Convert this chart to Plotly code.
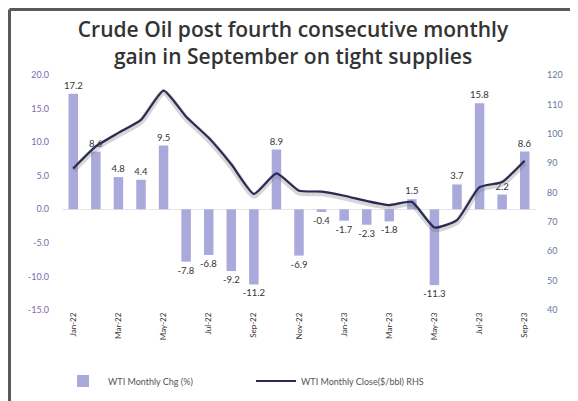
import plotly.graph_objects as go

months = ["Jan-22","Feb-22","Mar-22","Apr-22","May-22","Jun-22","Jul-22","Aug-22","Sep-22",
          "Oct-22","Nov-22","Dec-22","Jan-23","Feb-23","Mar-23","Apr-23","May-23","Jun-23",
          "Jul-23","Aug-23","Sep-23"]
monthly_chg = [17.2, 8.6, 4.8, 4.4, 9.5, -7.8, -6.8, -9.2, -11.2, 8.9, -6.9, -0.4,
               -1.7, -2.3, -1.8, 1.5, -11.3, 3.7, 15.8, 2.2, 8.6]
monthly_close = [88.2, 95.7, 100.3, 104.7, 114.7, 105.8, 98.6, 89.6, 79.5, 86.5, 80.6, 80.3,
                 78.9, 77.1, 75.7, 76.8, 68.1, 70.6, 81.8, 83.6, 90.8]
left_ticks = [20, 15, 10, 5, 0, -5, -10, -15]
right_ticks = [120, 110, 100, 90, 80, 70, 60, 50, 40]

FONT = "Lato"
BAR = "#aaa9dc"
LINE = "#2b2a55"

# page body has an 8px margin
W, H = 570, 393
ML, MR, MT, MB = 54, 42, 67, 91
PW, PH = W - ML - MR, H - MT - MB

fig = go.Figure()
fig.add_trace(go.Bar(
    x=months, y=monthly_chg, name="WTI Monthly Chg (%)",
    marker=dict(color=BAR, line=dict(width=0)), width=0.42,
    text=[f"{v:.1f}" for v in monthly_chg], textposition="outside", constraintext="none",
    textfont=dict(size=9.5, color="#333333", family=FONT), cliponaxis=False,
    legend="legend",
))
# shadow
fig.add_trace(go.Scatter(
    x=months, y=[v - 0.6 for v in monthly_close], mode="lines", yaxis="y2",
    line=dict(color="rgba(120,120,120,0.3)", width=6, shape="spline", smoothing=0.5),
    showlegend=False, hoverinfo="skip",
))
fig.add_trace(go.Scatter(
    x=months, y=monthly_close, mode="lines", yaxis="y2",
    name="WTI Monthly Close($/bbl) RHS",
    line=dict(color=LINE, width=2.2, shape="spline", smoothing=0.5),
    legend="legend2",
))

fx = (1.5 - ML) / PW
fy = 1 + (MT - 1.5) / PH
fig.update_layout(
    width=W, height=H,
    margin=dict(l=ML, r=MR, t=MT, b=MB, autoexpand=False),
    paper_bgcolor="white", plot_bgcolor="white",
    title=dict(text="Crude Oil post fourth consecutive monthly<br>gain in September on tight supplies",
               x=0.5, xanchor="center", y=1 - 29 / H, yanchor="top", yref="container",
               font=dict(family="Open Sans", size=21, color="#333333", weight=600)),
    font=dict(family=FONT),
    xaxis=dict(type="category", tickmode="array", tickvals=months[::2], ticktext=months[::2],
               tickangle=-90, tickfont=dict(size=8, color="#333333"),
               showgrid=False, showline=False, ticks="", zeroline=False),
    yaxis=dict(range=[-15, 20], tickvals=left_ticks, ticktext=[f"{v:.1f}" for v in left_ticks],
               tickfont=dict(size=9, color="#7a68b0"), showgrid=False, zeroline=True,
               zerolinecolor="#e6e6e6", zerolinewidth=1, showline=False, ticks="",
               ticklabelstandoff=12),
    yaxis2=dict(range=[40, 120], tickvals=right_ticks, overlaying="y", side="right",
                tickfont=dict(size=9, color="#6a78a0"), showgrid=False, zeroline=False,
                showline=False, ticks="", ticklabelstandoff=10),
    legend=dict(orientation="h", x=50 / W, xanchor="left", xref="container",
                y=20 / H, yanchor="middle", yref="container",
                font=dict(size=9, color="#555555"), itemwidth=40),
    legend2=dict(orientation="h", x=243 / W, xanchor="left", xref="container",
                 y=20 / H, yanchor="middle", yref="container",
                 font=dict(size=9, color="#555555"), itemwidth=40),
    shapes=[
        dict(type="line", xref="paper", yref="paper", x0=fx, x1=1.3, y0=fy, y1=fy,
             line=dict(color="#5a5a5a", width=3)),
        dict(type="line", xref="paper", yref="paper", x0=fx, x1=fx, y0=fy, y1=-0.6,
             line=dict(color="#5a5a5a", width=3)),
    ],
)
fig.write_html("out.html")
